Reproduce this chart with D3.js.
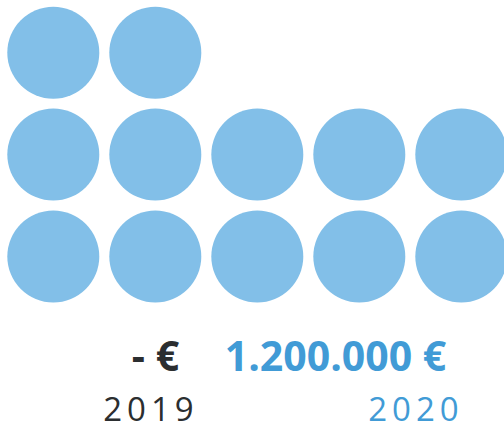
<!DOCTYPE html>
<html>
<head>
<meta charset="utf-8">
<script src="https://cdn.jsdelivr.net/npm/d3@7"></script>
<style>
    body { margin: 0; background: #fff; }
    text { font-family: "Open Sans", sans-serif; }
</style>
</head>
<body>
<div id="my_dataviz"></div>
<script>
// values per year, each circle = 100.000 €
const years = ["2019", "2020"]
const amounts = [0, 1200000]
const amountLabels = ["- €", "1.200.000 €"]
const unit = 100000
const perRow = 5

const width = 504
const height = 427

const svg = d3.select("#my_dataviz")
    .append("svg")
    .attr("width", width)
    .attr("height", height)

const count = amounts[1] / unit
const dots = d3.range(count).map(i => ({ col: i % perRow, row: Math.floor(i / perRow) }))

const x = d3.scaleLinear().domain([0, perRow - 1]).range([53.3, 461.3])
const y = d3.scaleLinear().domain([0, 2]).range([256.5, 52.7])

svg.append("g")
    .selectAll("circle")
    .data(dots)
    .enter()
    .append("circle")
    .attr("cx", d => x(d.col))
    .attr("cy", d => y(d.row))
    .attr("r", 46)
    .style("fill", "#82bfe8")

const colors = ["#2b2e30", "#419bd6"]
const labelX = [155.5, 335.5]
const yearX = [151, 416]

svg.append("g")
    .selectAll("text")
    .data(amountLabels)
    .enter()
    .append("text")
    .attr("x", (d, i) => labelX[i])
    .attr("y", 371)
    .attr("text-anchor", "middle")
    .style("font-weight", "bold")
    .style("font-size", "41px")
    .style("fill", (d, i) => colors[i])
    .text(d => d)

svg.append("g")
    .selectAll("text")
    .data(years)
    .enter()
    .append("text")
    .attr("x", (d, i) => yearX[i])
    .attr("y", 420.5)
    .attr("text-anchor", "middle")
    .style("font-size", "33px")
    .style("letter-spacing", "5px")
    .style("fill", (d, i) => colors[i])
    .text(d => d)
</script>
</body>
</html>
